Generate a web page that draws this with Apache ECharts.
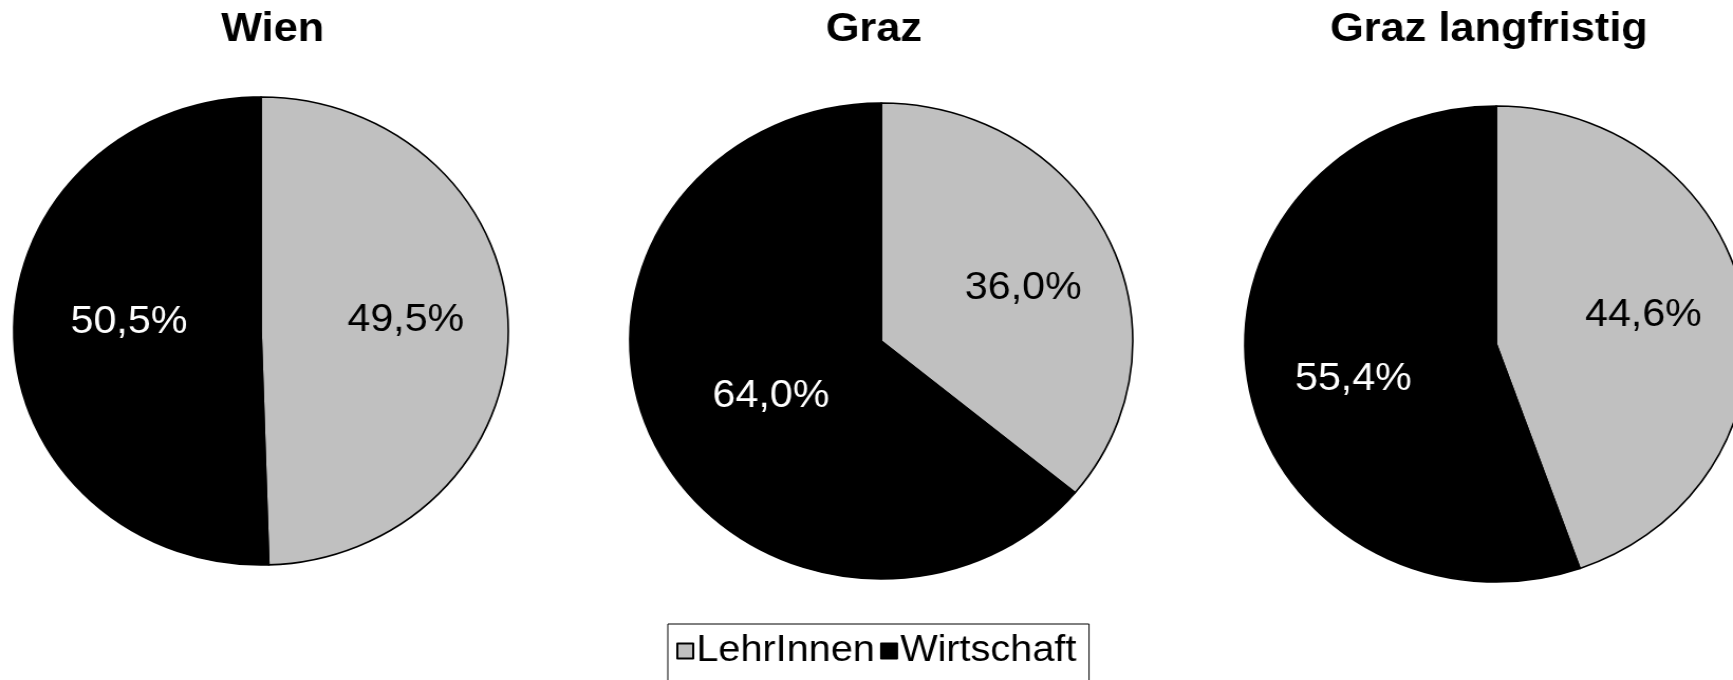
<!DOCTYPE html>
<html>
<head>
<meta charset="utf-8">
<title>LehrInnen / Wirtschaft</title>
<script src="https://cdn.jsdelivr.net/npm/echarts@6/dist/echarts.min.js"></script>
<style>
  html, body { margin: 0; padding: 0; background: #fff; overflow: hidden; }
  /* the original pies are slightly wider than tall, so stretch the canvas a little */
  #wrap { width: 1733px; height: 680px; overflow: hidden; }
  #chart { width: 1640px; height: 680px; transform: scaleX(1.0567); transform-origin: 0 0; }
</style>
</head>
<body>
<div id="wrap"><div id="chart"></div></div>
<script>
// Daten
var kategorien = ['LehrInnen', 'Wirtschaft'];
var titel = ['Wien', 'Graz', 'Graz langfristig'];
var wien = [49.5, 50.5];
var graz = [36.0, 64.0];
var grazLangfristig = [44.6, 55.4];

var werte = [wien, graz, grazLangfristig];
var farben = ['#c0c0c0', '#000000'];
var textFarben = ['#000000', '#ffffff'];

// Lage der drei Kreise (Chart-Pixel)
var zentren = [[247, 331], [834, 341], [1416, 344]];
var radien = [234, 238, 238];
// Feinkorrektur der Beschriftungen wie im Original (dx, dy)
var labelVersatz = [
  [[17, -9], [-5, -11]],
  [[24, -1], [6, 3]],
  [[19, -8], [-15, 15]]
];

var myChart = echarts.init(document.getElementById('chart'));

var series = werte.map(function (w, k) {
  return {
    name: titel[k],
    type: 'pie',
    center: zentren[k],
    radius: radien[k],
    startAngle: 90,
    clockwise: true,
    color: farben,
    silent: true,
    itemStyle: { borderColor: '#000', borderWidth: 1.6 },
    label: {
      show: true,
      position: 'inside',
      fontFamily: 'Liberation Sans, Arial, sans-serif',
      fontSize: 39,
      formatter: function (p) {
        return p.value.toFixed(1).replace('.', ',') + '%';
      }
    },
    labelLine: { show: false },
    labelLayout: function (p) {
      var v = labelVersatz[p.seriesIndex][p.dataIndex];
      return { dx: v[0], dy: v[1] };
    },
    data: kategorien.map(function (n, i) {
      return { name: n, value: w[i], label: { color: textFarben[i] } };
    })
  };
});

myChart.setOption({
  animation: false,
  backgroundColor: '#fff',
  title: titel.map(function (t, k) {
    return {
      text: t,
      left: [258, 827, 1409][k],
      top: 9,
      padding: 0,
      textAlign: 'center',
      textStyle: {
        fontFamily: 'Liberation Sans, Arial, sans-serif',
        fontWeight: 'bold',
        fontSize: 41,
        color: '#000'
      }
    };
  }),
  legend: {
    data: kategorien,
    left: 632,
    top: 624,
    orient: 'horizontal',
    icon: 'rect',
    itemWidth: 15,
    itemHeight: 15,
    itemGap: 5,
    padding: [8, 12, 24, 8],
    borderColor: '#000',
    borderWidth: 1,
    selectedMode: false,
    textStyle: {
      fontFamily: 'Liberation Sans, Arial, sans-serif',
      fontSize: 37.5,
      color: '#000',
      padding: [0, 0, 0, -2]
    }
  },
  series: series
});
</script>
</body>
</html>
